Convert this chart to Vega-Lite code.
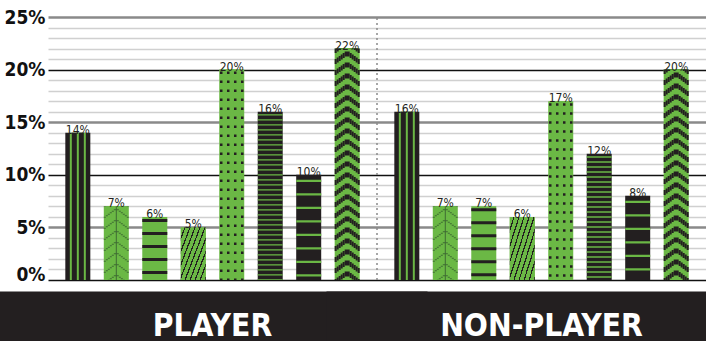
{
 "$schema": "https://vega.github.io/schema/vega-lite/v6.json",
 "width": 658, "height": 263,
 "autosize": {"type": "none"},
 "padding": {"left": 48, "top": 17, "right": 0, "bottom": 61},
 "background": "#ffffff",
 "config": {"view": {"stroke": null}},
 "data": {"values": [
  {"group": "PLAYER", "item": 1, "pattern": "vstripe", "value": 0.14},
  {"group": "PLAYER", "item": 2, "pattern": "leaf", "value": 0.07},
  {"group": "PLAYER", "item": 3, "pattern": "dash", "value": 0.06},
  {"group": "PLAYER", "item": 4, "pattern": "hatch", "value": 0.05},
  {"group": "PLAYER", "item": 5, "pattern": "dots", "value": 0.20},
  {"group": "PLAYER", "item": 6, "pattern": "hstripe", "value": 0.16},
  {"group": "PLAYER", "item": 7, "pattern": "wave", "value": 0.10},
  {"group": "PLAYER", "item": 8, "pattern": "chevron", "value": 0.22},
  {"group": "NON-PLAYER", "item": 1, "pattern": "vstripe", "value": 0.16},
  {"group": "NON-PLAYER", "item": 2, "pattern": "leaf", "value": 0.07},
  {"group": "NON-PLAYER", "item": 3, "pattern": "dash", "value": 0.07},
  {"group": "NON-PLAYER", "item": 4, "pattern": "hatch", "value": 0.06},
  {"group": "NON-PLAYER", "item": 5, "pattern": "dots", "value": 0.17},
  {"group": "NON-PLAYER", "item": 6, "pattern": "hstripe", "value": 0.12},
  {"group": "NON-PLAYER", "item": 7, "pattern": "wave", "value": 0.08},
  {"group": "NON-PLAYER", "item": 8, "pattern": "chevron", "value": 0.20}
 ]},
 "encoding": {
  "x": {"field": "group", "type": "nominal", "title": null, "scale": {"domain": ["PLAYER", "NON-PLAYER"], "paddingInner": 0, "paddingOuter": 0},
    "axis": {"title": null, "domain": false, "grid": false, "ticks": true, "tickSize": 50, "tickWidth": 430, "tickColor": "#231f20", "offset": 11, "labelPadding": -6, "labelBaseline": "alphabetic", "labelAngle": 0, "labelColor": "#ffffff", "labelFont": "DejaVu Sans Condensed", "labelFontSize": 31.5, "labelFontWeight": "bold", "labelOverlap": false, "labelLimit": 0}},
  "xOffset": {"field": "item", "type": "ordinal", "scale": {"paddingInner": 0.35, "paddingOuter": 0.45}},
  "y": {"field": "value", "type": "quantitative", "title": null, "scale": {"domain": [0, 0.25]},
    "axis": {"title": null, "values": [0,0.01,0.02,0.03,0.04,0.05,0.06,0.07,0.08,0.09,0.1,0.11,0.12,0.13,0.14,0.15,0.16,0.17,0.18,0.19,0.2,0.21,0.22,0.23,0.24,0.25],
      "domain": false, "ticks": false, "grid": true,
      "gridColor": {"condition": [{"test": "round(datum.value*100) % 10 === 0", "value": "#111111"}, {"test": "round(datum.value*100) % 5 === 0", "value": "#8a8a8a"}], "value": "#d0d0d0"},
      "gridWidth": {"condition": [{"test": "round(datum.value*100) % 10 === 0", "value": 1.5}, {"test": "round(datum.value*100) % 5 === 0", "value": 2.5}], "value": 1.5},
      "labelExpr": "round(datum.value*100) % 5 === 0 ? format(datum.value, '.0%') : ''",
      "labelBaseline": {"condition": {"test": "datum.value === 0", "value": "alphabetic"}, "value": "middle"},
      "labelFont": "DejaVu Sans Condensed", "labelFontSize": 19, "labelFontWeight": "bold", "labelColor": "#111111", "labelPadding": 3, "labelOverlap": false, "labelLimit": 0}}
 },
 "layer": [
  {"mark": {"type": "bar"},
   "encoding": {
    "color": {"field": "pattern", "type": "nominal", "scale": {"domain": ["vstripe", "leaf", "dash", "hatch", "dots", "hstripe", "wave", "chevron"], "range": ["#231f20", "#6bb845", "#6bb845", "#6bb845", "#6bb845", "#231f20", "#231f20", "#6bb845"]}, "legend": null}}},
  {"transform": [{"filter": {"field": "pattern", "equal": "hatch"}}],
   "mark": {"type": "bar", "fill": {"gradient": "linear", "x1": 0, "y1": 0, "x2": 1.1, "y2": 0.88, "stops": [
     {"offset": 0, "color": "#6bb845"},
     {"offset": 0.08, "color": "#6bb845"}, {"offset": 0.08, "color": "#231f20"}, {"offset": 0.108, "color": "#231f20"}, {"offset": 0.108, "color": "#6bb845"},
     {"offset": 0.191, "color": "#6bb845"}, {"offset": 0.191, "color": "#231f20"}, {"offset": 0.219, "color": "#231f20"}, {"offset": 0.219, "color": "#6bb845"},
     {"offset": 0.302, "color": "#6bb845"}, {"offset": 0.302, "color": "#231f20"}, {"offset": 0.330, "color": "#231f20"}, {"offset": 0.330, "color": "#6bb845"},
     {"offset": 0.413, "color": "#6bb845"}, {"offset": 0.413, "color": "#231f20"}, {"offset": 0.441, "color": "#231f20"}, {"offset": 0.441, "color": "#6bb845"},
     {"offset": 0.524, "color": "#6bb845"}, {"offset": 0.524, "color": "#231f20"}, {"offset": 0.552, "color": "#231f20"}, {"offset": 0.552, "color": "#6bb845"},
     {"offset": 0.636, "color": "#6bb845"}, {"offset": 0.636, "color": "#231f20"}, {"offset": 0.664, "color": "#231f20"}, {"offset": 0.664, "color": "#6bb845"},
     {"offset": 0.747, "color": "#6bb845"}, {"offset": 0.747, "color": "#231f20"}, {"offset": 0.775, "color": "#231f20"}, {"offset": 0.775, "color": "#6bb845"},
     {"offset": 0.858, "color": "#6bb845"}, {"offset": 0.858, "color": "#231f20"}, {"offset": 0.886, "color": "#231f20"}, {"offset": 0.886, "color": "#6bb845"},
     {"offset": 0.969, "color": "#6bb845"}, {"offset": 0.969, "color": "#231f20"}, {"offset": 0.997, "color": "#231f20"}, {"offset": 0.997, "color": "#6bb845"},
     {"offset": 1, "color": "#6bb845"}]}}},
  {"transform": [{"filter": {"field": "pattern", "equal": "vstripe"}}],
   "mark": {"type": "rule", "color": "#6bb845", "strokeWidth": 16, "strokeCap": "butt"},
   "encoding": {"y2": {"datum": 0}}},
  {"transform": [{"filter": {"field": "pattern", "equal": "vstripe"}}],
   "mark": {"type": "rule", "color": "#231f20", "strokeWidth": 12, "strokeCap": "butt"},
   "encoding": {"y2": {"datum": 0}}},
  {"transform": [{"filter": {"field": "pattern", "equal": "vstripe"}}],
   "mark": {"type": "rule", "color": "#6bb845", "strokeWidth": 2, "strokeCap": "butt"},
   "encoding": {"y2": {"datum": 0}}},
  {"transform": [{"filter": {"field": "pattern", "equal": "dots"}}],
   "mark": {"type": "rule", "color": "#231f20", "strokeWidth": 23.5, "strokeCap": "butt", "strokeDash": [2.5, 6.5], "strokeDashOffset": 7},
   "encoding": {"y2": {"datum": 0}}},
  {"transform": [{"filter": {"field": "pattern", "equal": "dots"}}],
   "mark": {"type": "rule", "color": "#6bb845", "strokeWidth": 18.5, "strokeCap": "butt"},
   "encoding": {"y2": {"datum": 0}}},
  {"transform": [{"filter": {"field": "pattern", "equal": "dots"}}],
   "mark": {"type": "rule", "color": "#231f20", "strokeWidth": 9.5, "strokeCap": "butt", "strokeDash": [2.5, 6.5], "strokeDashOffset": 7},
   "encoding": {"y2": {"datum": 0}}},
  {"transform": [{"filter": {"field": "pattern", "equal": "dots"}}],
   "mark": {"type": "rule", "color": "#6bb845", "strokeWidth": 4.5, "strokeCap": "butt"},
   "encoding": {"y2": {"datum": 0}}},
  {"transform": [{"filter": {"field": "pattern", "equal": "hstripe"}}],
   "mark": {"type": "rule", "color": "#6bb845", "strokeWidth": 25, "strokeCap": "butt", "strokeDash": [1.4, 3.6], "strokeDashOffset": 2.5},
   "encoding": {"y2": {"datum": 0}}},
  {"transform": [{"filter": {"field": "pattern", "equal": "wave"}}],
   "mark": {"type": "rule", "color": "#6bb845", "strokeWidth": 25, "strokeCap": "butt", "strokeDash": [2.2, 11.3], "strokeDashOffset": 8.5},
   "encoding": {"y2": {"datum": 0}}},
  {"transform": [{"filter": {"field": "pattern", "equal": "dash"}}],
   "mark": {"type": "rule", "color": "#231f20", "strokeWidth": 25, "strokeCap": "butt", "strokeDash": [3, 10], "strokeDashOffset": 11},
   "encoding": {"y2": {"datum": 0}}},
  {"transform": [{"filter": {"field": "pattern", "oneOf": ["chevron", "leaf"]}}],
   "mark": {"type": "rule", "strokeWidth": 25, "strokeCap": "butt", "strokeDashOffset": 0.5},
   "encoding": {"y2": {"datum": 0},
    "stroke": {"field": "pattern", "type": "nominal", "scale": {"domain": ["chevron", "leaf"], "range": ["#231f20", "#3f6b33"]}, "legend": null},
    "strokeDash": {"field": "pattern", "type": "nominal", "scale": {"domain": ["chevron", "leaf"], "range": [[5, 6], [1, 10]]}, "legend": null}}},
  {"transform": [{"filter": {"field": "pattern", "oneOf": ["chevron", "leaf"]}}],
   "mark": {"type": "rule", "color": "#6bb845", "strokeWidth": 21, "strokeCap": "butt"},
   "encoding": {"y2": {"datum": 0}}},
  {"transform": [{"filter": {"field": "pattern", "oneOf": ["chevron", "leaf"]}}],
   "mark": {"type": "rule", "strokeWidth": 21, "strokeCap": "butt", "strokeDashOffset": 2},
   "encoding": {"y2": {"datum": 0},
    "stroke": {"field": "pattern", "type": "nominal", "scale": {"domain": ["chevron", "leaf"], "range": ["#231f20", "#3f6b33"]}, "legend": null},
    "strokeDash": {"field": "pattern", "type": "nominal", "scale": {"domain": ["chevron", "leaf"], "range": [[5, 6], [1, 10]]}, "legend": null}}},
  {"transform": [{"filter": {"field": "pattern", "oneOf": ["chevron", "leaf"]}}],
   "mark": {"type": "rule", "color": "#6bb845", "strokeWidth": 17, "strokeCap": "butt"},
   "encoding": {"y2": {"datum": 0}}},
  {"transform": [{"filter": {"field": "pattern", "oneOf": ["chevron", "leaf"]}}],
   "mark": {"type": "rule", "strokeWidth": 17, "strokeCap": "butt", "strokeDashOffset": 3.5},
   "encoding": {"y2": {"datum": 0},
    "stroke": {"field": "pattern", "type": "nominal", "scale": {"domain": ["chevron", "leaf"], "range": ["#231f20", "#3f6b33"]}, "legend": null},
    "strokeDash": {"field": "pattern", "type": "nominal", "scale": {"domain": ["chevron", "leaf"], "range": [[5, 6], [1, 10]]}, "legend": null}}},
  {"transform": [{"filter": {"field": "pattern", "oneOf": ["chevron", "leaf"]}}],
   "mark": {"type": "rule", "color": "#6bb845", "strokeWidth": 13, "strokeCap": "butt"},
   "encoding": {"y2": {"datum": 0}}},
  {"transform": [{"filter": {"field": "pattern", "oneOf": ["chevron", "leaf"]}}],
   "mark": {"type": "rule", "strokeWidth": 13, "strokeCap": "butt", "strokeDashOffset": 5},
   "encoding": {"y2": {"datum": 0},
    "stroke": {"field": "pattern", "type": "nominal", "scale": {"domain": ["chevron", "leaf"], "range": ["#231f20", "#3f6b33"]}, "legend": null},
    "strokeDash": {"field": "pattern", "type": "nominal", "scale": {"domain": ["chevron", "leaf"], "range": [[5, 6], [1, 10]]}, "legend": null}}},
  {"transform": [{"filter": {"field": "pattern", "oneOf": ["chevron", "leaf"]}}],
   "mark": {"type": "rule", "color": "#6bb845", "strokeWidth": 9, "strokeCap": "butt"},
   "encoding": {"y2": {"datum": 0}}},
  {"transform": [{"filter": {"field": "pattern", "oneOf": ["chevron", "leaf"]}}],
   "mark": {"type": "rule", "strokeWidth": 9, "strokeCap": "butt", "strokeDashOffset": 6.5},
   "encoding": {"y2": {"datum": 0},
    "stroke": {"field": "pattern", "type": "nominal", "scale": {"domain": ["chevron", "leaf"], "range": ["#231f20", "#3f6b33"]}, "legend": null},
    "strokeDash": {"field": "pattern", "type": "nominal", "scale": {"domain": ["chevron", "leaf"], "range": [[5, 6], [1, 10]]}, "legend": null}}},
  {"transform": [{"filter": {"field": "pattern", "oneOf": ["chevron", "leaf"]}}],
   "mark": {"type": "rule", "color": "#6bb845", "strokeWidth": 5, "strokeCap": "butt"},
   "encoding": {"y2": {"datum": 0}}},
  {"transform": [{"filter": {"field": "pattern", "oneOf": ["chevron", "leaf"]}}],
   "mark": {"type": "rule", "strokeWidth": 5, "strokeCap": "butt", "strokeDashOffset": 8},
   "encoding": {"y2": {"datum": 0},
    "stroke": {"field": "pattern", "type": "nominal", "scale": {"domain": ["chevron", "leaf"], "range": ["#231f20", "#3f6b33"]}, "legend": null},
    "strokeDash": {"field": "pattern", "type": "nominal", "scale": {"domain": ["chevron", "leaf"], "range": [[5, 6], [1, 10]]}, "legend": null}}},
  {"transform": [{"filter": {"field": "pattern", "equal": "leaf"}}],
   "mark": {"type": "rule", "color": "#3f6b33", "strokeWidth": 1, "strokeCap": "butt"},
   "encoding": {"y2": {"datum": 0}}},
  {"mark": {"type": "text", "baseline": "alphabetic", "dy": 1, "font": "DejaVu Sans Condensed", "fontSize": 12, "color": "#231f20"},
   "encoding": {"text": {"field": "value", "type": "quantitative", "format": ".0%"}}},
  {"transform": [{"filter": {"field": "pattern", "equal": "vstripe"}}, {"filter": {"field": "group", "equal": "NON-PLAYER"}}],
   "mark": {"type": "rule", "color": "#8a8a8a", "strokeWidth": 1.5, "strokeDash": [2, 3]},
   "encoding": {"xOffset": {"value": 0}, "y": {"datum": 0}, "y2": {"datum": 0.25}}}
 ]
}
